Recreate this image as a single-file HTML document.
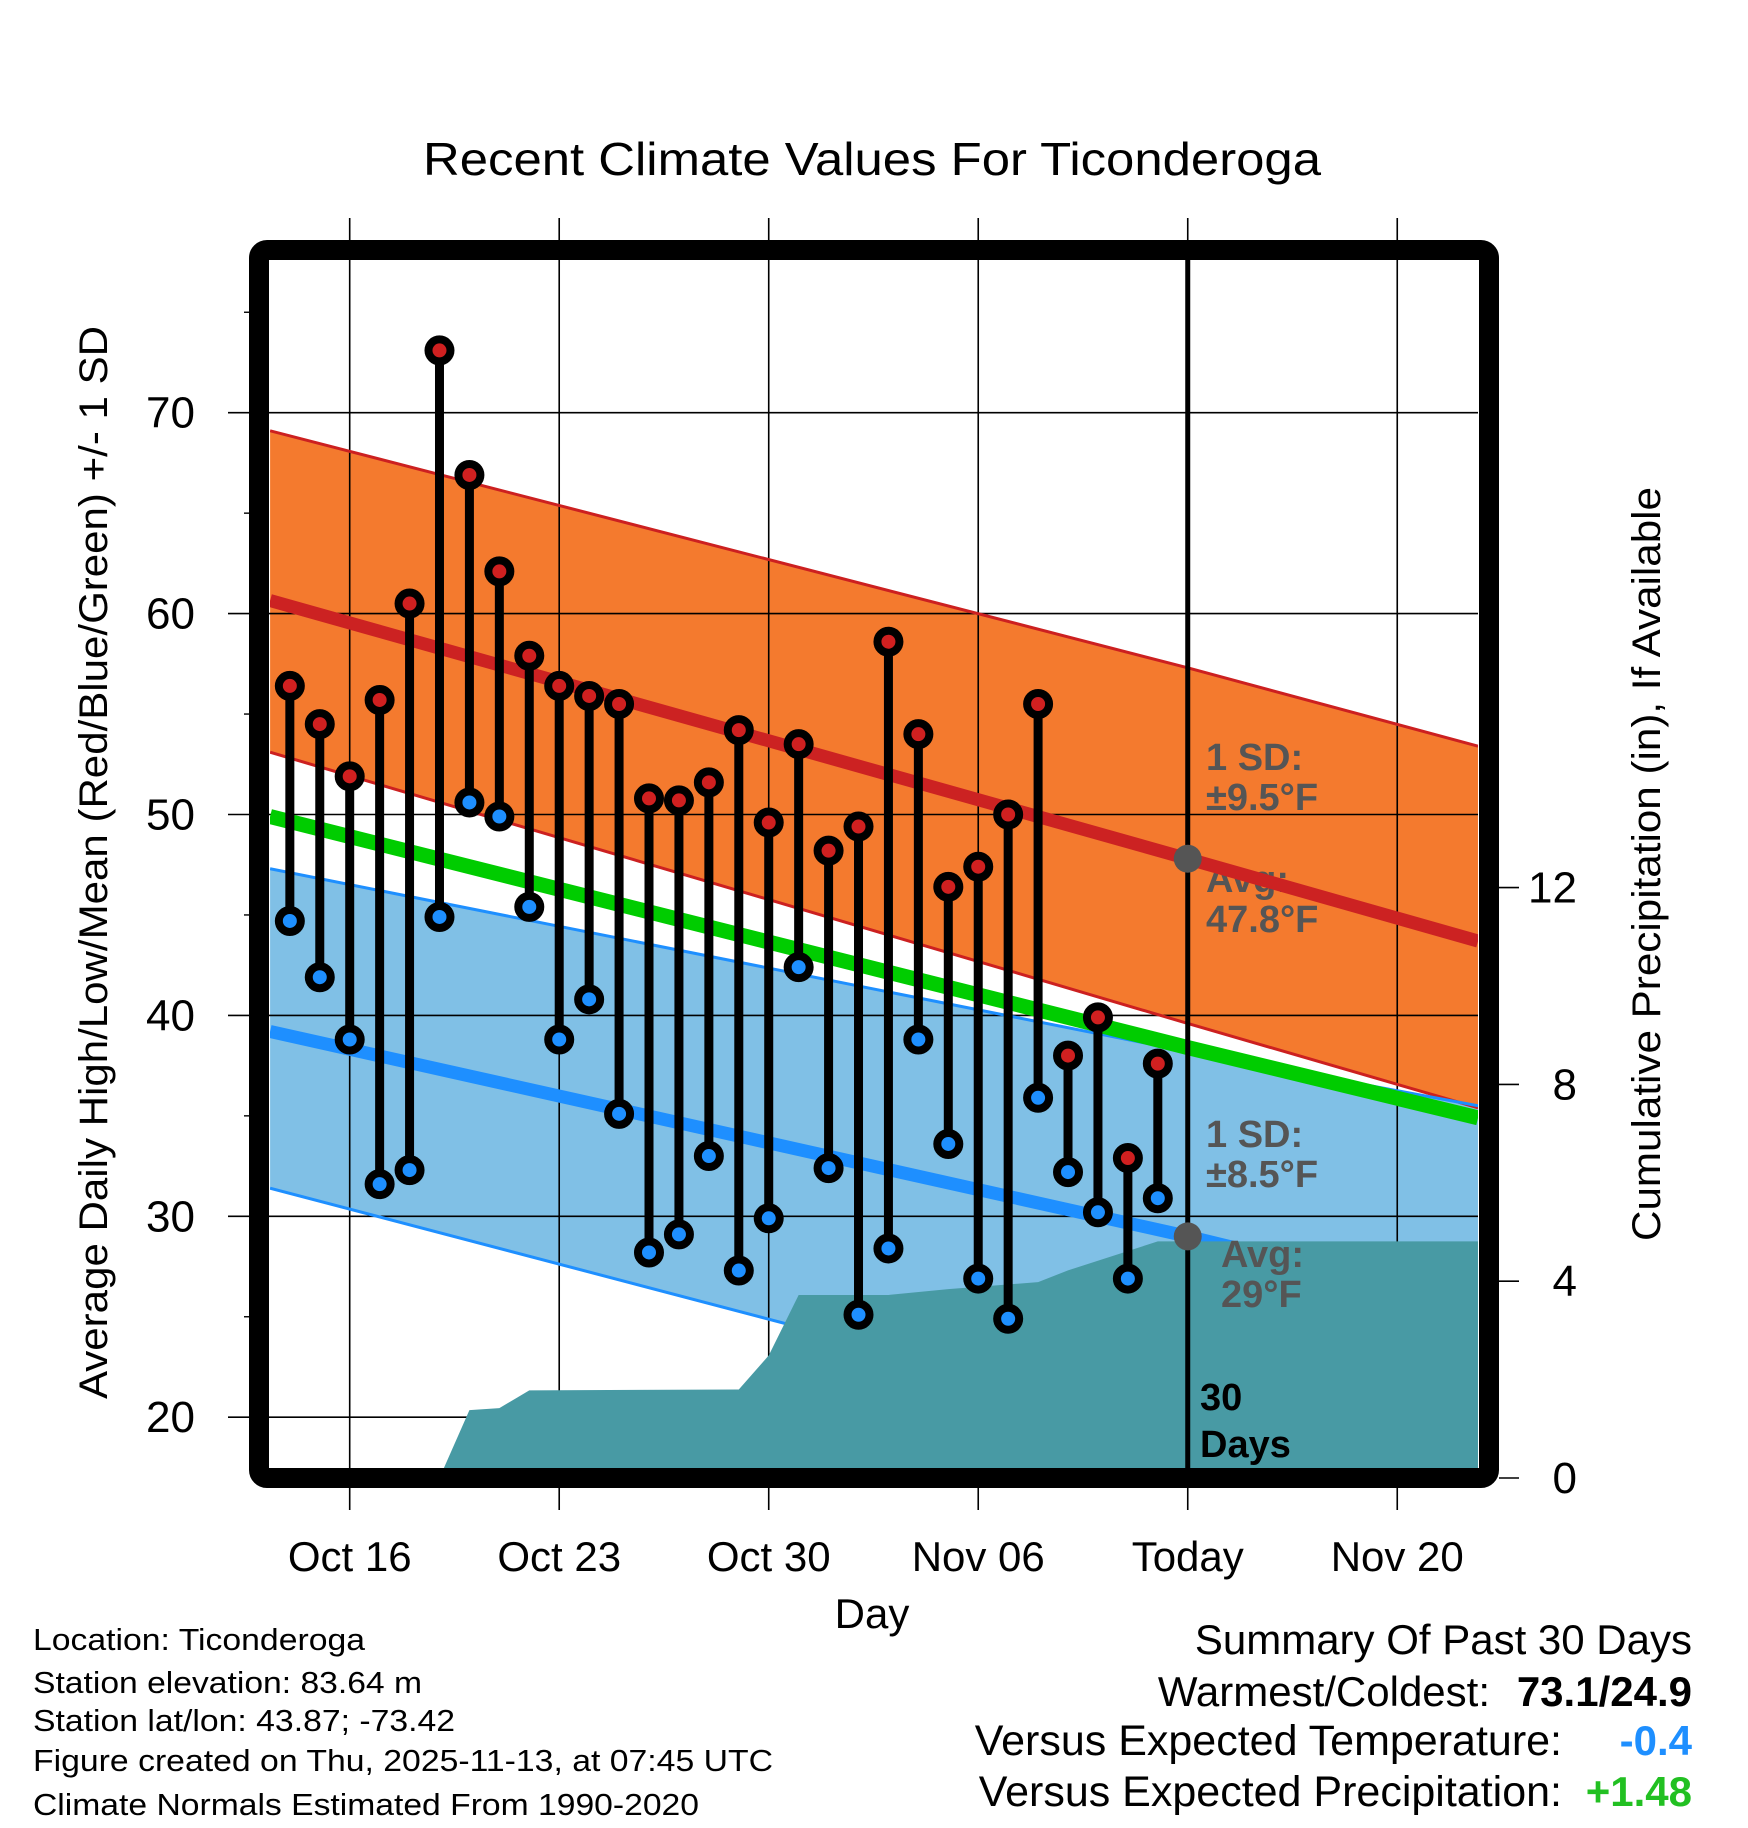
<!DOCTYPE html>
<html><head><meta charset="utf-8"><style>
html,body{margin:0;padding:0;background:#fff}
svg{display:block;font-family:"Liberation Sans",sans-serif}
</style></head><body>
<svg id="chart" width="1748" height="1828" viewBox="0 0 1748 1828" xmlns="http://www.w3.org/2000/svg">
<defs><clipPath id="plotclip"><rect x="270" y="260" width="1208" height="1208"/></clipPath></defs>
<g id="layer-fill" clip-path="url(#plotclip)"></g>
<g id="layer-grid"></g>
<g id="layer-lines" clip-path="url(#plotclip)"></g>
<g id="layer-precip" clip-path="url(#plotclip)"></g>
<g id="layer-top"></g>
<g id="layer-text"></g>
</svg>
<script>
// ---- data ----
const days = ["Oct14","Oct15","Oct16","Oct17","Oct18","Oct19","Oct20","Oct21","Oct22","Oct23","Oct24","Oct25","Oct26","Oct27","Oct28","Oct29","Oct30","Oct31","Nov01","Nov02","Nov03","Nov04","Nov05","Nov06","Nov07","Nov08","Nov09","Nov10","Nov11","Nov12"];
const highs = [56.4,54.5,51.9,55.7,60.5,73.1,66.9,62.1,57.9,56.4,55.9,55.5,50.8,50.7,51.6,54.2,49.6,53.5,48.2,49.4,58.6,54.0,46.4,47.4,50.0,55.5,38.0,39.9,32.9,37.6];
const lows = [44.7,41.9,38.8,31.6,32.3,44.9,50.6,49.9,45.4,38.8,40.8,35.1,28.2,29.1,33.0,27.3,29.9,42.4,32.4,25.1,28.4,38.8,33.6,26.9,24.9,35.9,32.2,30.2,26.9,30.9];
const precipDays = [5,6,7,8,15,16,17,20,22,25,26,29,42];
const precipCum = [0,1.38,1.42,1.78,1.80,2.49,3.72,3.72,3.84,3.98,4.22,4.81,4.81];
const normalDays = [-2.66,28,37.7];
const hiPlus = [69.1,57.3,53.4];
const hiAvg = [60.65,47.8,43.7];
const hiMinus = [53.1,39.6,35.4];
const meanAvg = [49.9,38.4,34.9];
const loPlus = [47.3,38.2,35.5];
const loAvg = [39.2,29.0,25.5];
const loMinus = [31.4,19.4,17.9];
const xTickDays = [2,9,16,23,30,37];
const xTickLabels = ["Oct 16","Oct 23","Oct 30","Nov 06","Today","Nov 20"];
const yTicks = [20,30,40,50,60,70];
const yMinor = [25,35,45,55,65,75];
const pTicks = [0,4,8,12];
// ---- scales ----
const X0=349.7-2*29.93, DX=29.93; // day index 0 = Oct14
function xs(d){return X0+d*DX;}
function ys(t){return 412.7+(70-t)*20.09;}
function yp(p){return 1478-p*49.2;}
const NS="http://www.w3.org/2000/svg";
function mk(tag,attrs,parent){const el=document.createElementNS(NS,tag);for(const k in attrs)el.setAttribute(k,attrs[k]);parent.appendChild(el);return el;}
const G=id=>document.getElementById(id);
function nx(i){return xs(normalDays[i]+2);}
function pts(arr){return arr.map((v,i)=>nx(i)+","+ys(v)).join(" ");}
function band(up,lo){return pts(up)+" "+lo.map((v,i)=>[nx(i),ys(v)]).reverse().map(p=>p.join(",")).join(" ");}
let e;
e=mk("polygon",{points:band(loPlus,loMinus),fill:"#80c0e6"},G("layer-fill"));


e=mk("polygon",{points:band(hiPlus,hiMinus),fill:"#f47a2e"},G("layer-fill"));


const gg=G("layer-grid");
yTicks.forEach(t=>{e=mk("line",{x1:228,x2:1478,y1:ys(t),y2:ys(t),stroke:"#000","stroke-width":1.6},gg);


e=mk("text",{x:195,y:ys(t)+15,"font-size":44,"text-anchor":"end"},gg);e.textContent=t;

});
yMinor.forEach(t=>{e=mk("line",{x1:244,x2:260,y1:ys(t),y2:ys(t),stroke:"#000","stroke-width":1.4},gg);

});
xTickDays.forEach((d,i)=>{e=mk("line",{x1:xs(d),x2:xs(d),y1:218,y2:1510,stroke:"#000","stroke-width":1.6},gg);


e=mk("text",{x:xs(d),y:1571,"font-size":42,"text-anchor":"middle"},gg);e.textContent=xTickLabels[i];

});
pTicks.forEach(p=>{e=mk("line",{x1:1499,x2:1519,y1:yp(p),y2:yp(p),stroke:"#000","stroke-width":1.6},gg);


e=mk("text",{x:1577,y:yp(p)+15,"font-size":44,"text-anchor":"end"},gg);e.textContent=p;

});
[["1 SD:",1206,770,"#555"],["±9.5°F",1206,810,"#555"],["Avg:",1206,892,"#555"],["47.8°F",1206,932,"#555"],
 ["1 SD:",1206,1147,"#555"],["±8.5°F",1206,1187,"#555"]].forEach(a=>{e=mk("text",{x:a[1],y:a[2],"font-size":38,"font-weight":"bold",fill:a[3]},G("layer-fill"));e.textContent=a[0];

});
const lg=G("layer-lines");
const lineNames=['high-plus-sd','high-minus-sd','low-plus-sd','low-minus-sd','avg-high-line','avg-low-line','mean-line'];
[[hiPlus,"#cc2020",3],[hiMinus,"#cc2020",3],[loPlus,"#1e8fff",3],[loMinus,"#1e8fff",3],[hiAvg,"#cc2222",13],[loAvg,"#1e8fff",13],[meanAvg,"#00cc00",15]].forEach((a,i)=>{
e=mk("polyline",{points:pts(a[0]),fill:"none",stroke:a[1],"stroke-width":a[2]},lg);

});
let pp=precipDays.map((d,i)=>xs(d)+","+yp(precipCum[i])).join(" ");
pp+=" "+xs(precipDays[precipDays.length-1])+",1480 "+xs(precipDays[0])+",1480";
e=mk("polygon",{points:pp,fill:"#489aa4"},G("layer-precip"));


[["Avg:",1221,1267,"#555"],["29°F",1221,1307,"#555"],["30",1200,1410,"#000"],["Days",1200,1457,"#000"]].forEach(a=>{e=mk("text",{x:a[1],y:a[2],"font-size":38,"font-weight":"bold",fill:a[3]},G("layer-precip"));e.textContent=a[0];

});
const topLayer=G("layer-top");
e=mk("line",{x1:xs(30),x2:xs(30),y1:258,y2:1470,stroke:"#000","stroke-width":5},topLayer);


e=mk("rect",{x:259,y:250,width:1230,height:1228,fill:"none",stroke:"#000","stroke-width":20,rx:8},topLayer);


e=mk("circle",{cx:xs(30),cy:ys(hiAvg[1]),r:14,fill:"#555"},topLayer);


e=mk("circle",{cx:xs(30),cy:ys(loAvg[1]),r:14,fill:"#555"},topLayer);


days.forEach((d,i)=>{
e=mk("line",{x1:xs(i),x2:xs(i),y1:ys(highs[i]),y2:ys(lows[i]),stroke:"#000","stroke-width":9},topLayer);


e=mk("circle",{cx:xs(i),cy:ys(highs[i]),r:11,fill:"#d02020",stroke:"#000","stroke-width":8},topLayer);


e=mk("circle",{cx:xs(i),cy:ys(lows[i]),r:11,fill:"#1e8fff",stroke:"#000","stroke-width":8},topLayer);


});
</script>
<svg style="position:absolute;left:0;top:0" width="1748" height="1828" xmlns="http://www.w3.org/2000/svg" font-family="Liberation Sans, sans-serif">
<text x="423" y="175" font-size="46" textLength="898" lengthAdjust="spacingAndGlyphs">Recent Climate Values For Ticonderoga</text>
<text x="872" y="1628" font-size="42" text-anchor="middle">Day</text>
<text transform="translate(107,1399) rotate(-90)" font-size="40" textLength="1073" lengthAdjust="spacingAndGlyphs">Average Daily High/Low/Mean (Red/Blue/Green) +/- 1 SD</text>
<text transform="translate(1660,1241) rotate(-90)" font-size="40" textLength="754" lengthAdjust="spacingAndGlyphs">Cumulative Precipitation (in), If Available</text>
<g font-size="31">
<text x="33" y="1650" textLength="332" lengthAdjust="spacingAndGlyphs">Location: Ticonderoga</text>
<text x="33" y="1693" textLength="389" lengthAdjust="spacingAndGlyphs">Station elevation: 83.64 m</text>
<text x="33" y="1731" textLength="422" lengthAdjust="spacingAndGlyphs">Station lat/lon: 43.87; -73.42</text>
<text x="33" y="1771" textLength="740" lengthAdjust="spacingAndGlyphs">Figure created on Thu, 2025-11-13, at 07:45 UTC</text>
<text x="33" y="1815" textLength="666" lengthAdjust="spacingAndGlyphs">Climate Normals Estimated From 1990-2020</text>
</g>
<g font-size="42">
<text x="1692" y="1654" text-anchor="end">Summary Of Past 30 Days</text>
<text x="1490" y="1706" text-anchor="end">Warmest/Coldest:</text>
<text x="1692" y="1706" text-anchor="end" font-weight="bold">73.1/24.9</text>
<text x="1562" y="1755" text-anchor="end" font-size="43">Versus Expected Temperature:</text>
<text x="1692" y="1755" text-anchor="end" font-weight="bold" fill="#1e8fff">-0.4</text>
<text x="1562" y="1806" text-anchor="end" font-size="43">Versus Expected Precipitation:</text>
<text x="1692" y="1806" text-anchor="end" font-weight="bold" fill="#22c022">+1.48</text>
</g>
</svg>
</body></html>
